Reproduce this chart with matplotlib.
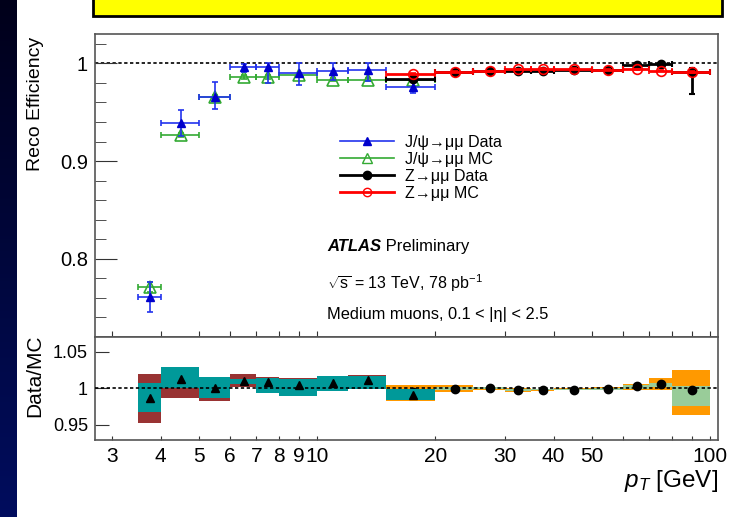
import numpy as np
import matplotlib.pyplot as plt
from matplotlib.colors import LinearSegmentedColormap
from matplotlib.patches import Rectangle
from matplotlib.lines import Line2D
from matplotlib.ticker import FixedLocator, FuncFormatter, NullLocator, MultipleLocator

plt.rcParams['font.family'] = ['Liberation Sans', 'DejaVu Sans']
plt.rcParams['mathtext.fontset'] = 'custom'
plt.rcParams['mathtext.rm'] = 'Liberation Sans'
plt.rcParams['mathtext.it'] = 'Liberation Sans:italic'
plt.rcParams['mathtext.bf'] = 'Liberation Sans:bold'

# J/psi -> mumu tag-and-probe bins (GeV)
jpsi_edges = np.array([3.5, 4, 5, 6, 7, 8, 10, 12, 15, 20])
jpsi_data = np.array([0.761, 0.939, 0.966, 0.996, 0.996, 0.990, 0.992, 0.9935, 0.976])
jpsi_data_dn = np.array([0.015, 0.013, 0.013, 0.0045, 0.016, 0.012, 0.009, 0.012, 0.006])
jpsi_data_up = np.array([0.015, 0.013, 0.015, 0.003, 0.004, 0.010, 0.008, 0.0065, 0.007])
jpsi_mc = np.array([0.771, 0.927, 0.966, 0.986, 0.986, 0.988, 0.983, 0.983, 0.983])
jpsi_mc_err = np.array([0.005, 0.002, 0.002, 0.002, 0.002, 0.0015, 0.0015, 0.0015, 0.0015])

# Z -> mumu tag-and-probe bins (GeV)
z_edges = np.array([15, 20, 25, 30, 35, 40, 50, 60, 70, 80, 100])
z_data = np.array([0.984, 0.991, 0.992, 0.992, 0.9925, 0.9935, 0.9935, 0.998, 0.9997, 0.991])
z_data_dn = np.array([0.003, 0.001, 0.001, 0.001, 0.001, 0.001, 0.001, 0.0015, 0.0015, 0.022])
z_data_up = np.array([0.003, 0.001, 0.001, 0.001, 0.001, 0.001, 0.001, 0.0015, 0.0015, 0.004])
z_mc = np.array([0.9895, 0.9915, 0.992, 0.994, 0.9945, 0.9945, 0.9935, 0.994, 0.9925, 0.991])
z_mc_err = np.array([0.0005, 0.0005, 0.0005, 0.0005, 0.0005, 0.0005, 0.0005, 0.0005, 0.0005, 0.001])

# Data/MC scale factors with stat and total bands
jpsi_ratio = np.array([0.987, 1.012, 1.000, 1.010, 1.009, 1.004, 1.007, 1.011, 0.990])
jpsi_stat_lo = np.array([0.9667, 0.9996, 0.9859, 1.0050, 0.9936, 0.9895, 0.9959, 0.9982, 0.9836])
jpsi_stat_hi = np.array([1.0073, 1.0284, 1.0155, 1.0123, 1.0132, 1.0119, 1.0164, 1.0169, 0.9982])
jpsi_tot_lo = np.array([0.9525, 0.9859, 0.9827, 1.0018, 0.9950, 0.9910, 0.9970, 0.9995, 0.9850])
jpsi_tot_hi = np.array([1.0192, 1.0290, 1.0155, 1.0192, 1.0155, 1.0132, 1.0164, 1.0180, 0.9975])

z_ratio = np.array([0.9945, 0.999, 1.000, 0.9977, 0.9977, 0.998, 0.999, 1.0027, 1.0055, 0.9968])
z_stat_lo = np.array([0.990, 0.9973, 0.9985, 0.9965, 0.997, 0.997, 0.998, 0.9995, 1.001, 0.9753])
z_stat_hi = np.array([0.999, 1.0018, 1.0015, 0.999, 0.9985, 0.9985, 1.000, 1.0045, 1.0073, 1.0027])
z_tot_lo = np.array([0.9822, 0.9941, 0.997, 0.995, 0.9965, 0.9977, 0.9968, 0.998, 0.9968, 0.963])
z_tot_hi = np.array([1.004, 1.004, 1.001, 1.0005, 0.999, 1.0005, 1.001, 1.0055, 1.0141, 1.0247])

xticks = [3, 4, 5, 6, 7, 8, 9, 10, 20, 30, 40, 50, 60, 70, 80, 90, 100]
xlabels = {3: '3', 4: '4', 5: '5', 6: '6', 7: '7', 8: '8', 9: '9', 10: '10',
           20: '20', 30: '30', 40: '40', 50: '50', 100: '100'}

W, H = 740, 517
fig = plt.figure(figsize=(W / 100, H / 100), dpi=100)

# slide decoration: navy side bar and yellow title box
bar = fig.add_axes([0, 0, 17 / W, 1])
bar.imshow(np.linspace(0, 1, 256)[:, None], aspect='auto', extent=[0, 1, 0, 1],
           cmap=LinearSegmentedColormap.from_list('navy', ['#00001a', '#000d5e']))
bar.axis('off')
fig.patches.append(Rectangle((93 / W, 1 - 16 / H), 629 / W, 22 / H, transform=fig.transFigure,
                             facecolor='#ffff00', edgecolor='black', linewidth=2))

ax1 = fig.add_axes([95 / W, 1 - 337 / H, 623 / W, 303 / H])
ax2 = fig.add_axes([95 / W, 1 - 440 / H, 623 / W, 103 / H], sharex=ax1)


def centres(edges):
    return 0.5 * (edges[:-1] + edges[1:])


def xerrs(edges):
    c = centres(edges)
    return [c - edges[:-1], edges[1:] - c]


jc, zc = centres(jpsi_edges), centres(z_edges)
blue, green = '#2233ee', '#33aa33'

ax1.axhline(1, color='black', ls=(0, (2, 1.5)), lw=1.2, zorder=1)
ax1.errorbar(jc, jpsi_mc, xerr=xerrs(jpsi_edges), yerr=jpsi_mc_err, fmt='^', color=green,
             mfc='none', mec=green, ms=8, mew=1.2, elinewidth=1.2, capsize=2.5, capthick=1.2, zorder=3)
ax1.errorbar(jc, jpsi_data, xerr=xerrs(jpsi_edges), yerr=[jpsi_data_dn, jpsi_data_up], fmt='^',
             color=blue, mfc='#0000cc', mec='#0000cc', ms=6, elinewidth=1.2, capsize=2.5,
             capthick=1.2, zorder=4)
ax1.errorbar(zc, z_data, xerr=xerrs(z_edges), yerr=[z_data_dn, z_data_up], fmt='o', color='black',
             ms=6, elinewidth=2, capsize=2.5, capthick=1.5, zorder=5)
ax1.errorbar(zc, z_mc, xerr=xerrs(z_edges), yerr=z_mc_err, fmt='o', color='red', mfc='none',
             mec='red', ms=7, mew=1.2, elinewidth=2, capsize=2.5, capthick=1.5, zorder=6)

handles = [
    Line2D([], [], color=blue, marker='^', mfc='#0000cc', mec='#0000cc', ms=6, lw=1.2),
    Line2D([], [], color=green, marker='^', mfc='none', ms=7, lw=1.2),
    Line2D([], [], color='black', marker='o', ms=6, lw=2),
    Line2D([], [], color='red', marker='o', mfc='none', ms=6, lw=2),
]
labels = ['J/\u03c8\u2192\u03bc\u03bc Data', 'J/\u03c8\u2192\u03bc\u03bc MC',
          'Z\u2192\u03bc\u03bc Data', 'Z\u2192\u03bc\u03bc MC']
ax1.legend(handles, labels, loc='upper left', bbox_to_anchor=((340 - 95) / 623, (337 - 135) / 303),
           frameon=False, fontsize=11.5, handlelength=3.4, handletextpad=0.7, labelspacing=0.12,
           borderpad=0, borderaxespad=0)

t = ax1.text((327 - 95) / 623, (337 - 246.7) / 303, 'ATLAS', transform=ax1.transAxes,
             fontsize=12, fontweight='bold', fontstyle='italic', va='center')
ax1.annotate(' Preliminary', xy=(1, 0.5), xycoords=t, va='center', fontsize=12)
ax1.text((327 - 95) / 623, (337 - 283) / 303, r'$\sqrt{\mathrm{s}}$ = 13 TeV, 78 pb$^{-1}$',
         transform=ax1.transAxes, fontsize=11.5, va='center')
ax1.text((327 - 95) / 623, (337 - 315) / 303, 'Medium muons, 0.1 < |\u03b7| < 2.5',
         transform=ax1.transAxes, fontsize=11.8, va='center')

# ratio panel
ax2.bar(z_edges[:-1], z_tot_hi - z_tot_lo, bottom=z_tot_lo, width=np.diff(z_edges), align='edge',
        color='#ff9900', lw=0, zorder=1)
ax2.bar(z_edges[:-1], z_stat_hi - z_stat_lo, bottom=z_stat_lo, width=np.diff(z_edges), align='edge',
        color='#99cc99', lw=0, zorder=1.5)
ax2.plot(zc, z_ratio, 'o', color='black', ms=6, zorder=2)
ax2.bar(jpsi_edges[:-1], jpsi_tot_hi - jpsi_tot_lo, bottom=jpsi_tot_lo, width=np.diff(jpsi_edges),
        align='edge', color='#993333', lw=0, zorder=3)
ax2.bar(jpsi_edges[:-1], jpsi_stat_hi - jpsi_stat_lo, bottom=jpsi_stat_lo, width=np.diff(jpsi_edges),
        align='edge', color='#009999', lw=0, zorder=3.5)
ax2.axhline(1, color='black', ls=(0, (2, 1.5)), lw=1.2, zorder=4)
ax2.plot(jc, jpsi_ratio, '^', color='black', ms=6, zorder=5)

ax1.set_xscale('log')
ax1.set_xlim(2.72, 104.8)
ax1.set_ylim(0.72, 1.03)
ax2.set_ylim(0.929, 1.07)

for ax in (ax1, ax2):
    ax.xaxis.set_major_locator(FixedLocator(xticks))
    ax.xaxis.set_minor_locator(NullLocator())
    for s in ax.spines.values():
        s.set_color('#555555')
        s.set_linewidth(1.2)

ax2.xaxis.set_major_formatter(FuncFormatter(lambda v, p: xlabels.get(int(round(v)), '')))
ax1.tick_params(axis='x', which='both', direction='in', length=4, labelbottom=False, color='#333333')
ax2.tick_params(axis='x', which='major', direction='in', length=3, labelsize=15, pad=5,
                color='#333333')

ax1.yaxis.set_major_locator(FixedLocator([0.8, 0.9, 1.0]))
ax1.yaxis.set_minor_locator(MultipleLocator(0.02))
ax1.yaxis.set_major_formatter(FuncFormatter(lambda v, p: f'{v:g}'))
ax1.tick_params(axis='y', which='major', direction='in', length=15.8, labelsize=14.5, pad=5,
                color='#333333')
ax1.tick_params(axis='y', which='minor', direction='in', length=8, color='#333333')

ax2.yaxis.set_major_locator(FixedLocator([0.95, 1.0, 1.05]))
ax2.yaxis.set_minor_locator(NullLocator())
ax2.yaxis.set_major_formatter(FuncFormatter(lambda v, p: f'{v:g}'))
ax2.tick_params(axis='y', which='major', direction='in', length=10.3, labelsize=13, pad=5,
                color='#333333')

fig.text(35 / W, 1 - 37 / H, 'Reco Efficiency', rotation=90, ha='center', va='top', fontsize=14)
fig.text(35 / W, 1 - 376 / H, 'Data/MC', rotation=90, ha='center', va='center', fontsize=15)
fig.text(718 / W, 1 - 468 / H, r'$p_{T}$ [GeV]', ha='right', va='top', fontsize=17.5)

fig.savefig('out.png', dpi=100, facecolor='white')
